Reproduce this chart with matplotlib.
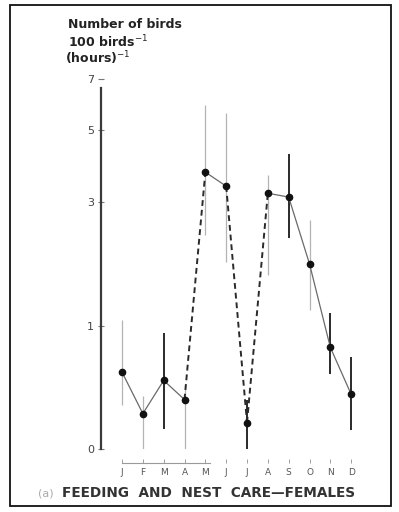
import numpy as np
import matplotlib
matplotlib.use("Agg")
import matplotlib.pyplot as plt
from matplotlib.patches import Rectangle

# Monthly counts (number of birds per 100 birds per hour), with range limits
months = np.arange(1, 13)
month_labels = ["J", "F", "M", "A", "M", "J", "J", "A", "S", "O", "N", "D"]
mean_count = [0.54, 0.22, 0.47, 0.32, 3.74, 3.38, 0.16, 3.21, 3.12, 1.83, 0.77, 0.36]
low_count = [0.28, 0.00, 0.12, 0.00, 2.33, 1.86, 0.00, 1.66, 2.27, 1.18, 0.52, 0.11]
high_count = [1.06, 0.35, 0.92, 0.43, 5.90, 5.60, 0.32, 3.66, 4.24, 2.62, 1.15, 0.68]
y_ticks = [0, 1, 3, 5, 7]

# line style between consecutive months, and ink of each range bar
segment_styles = ["-", "-", "-", "--", "-", "--", "--", "-", "-", "-", "-"]
bar_dark = [False, False, True, False, False, False, True, False, True, False, True, True]

W, H = 399, 512
fig = plt.figure(figsize=(W / 100, H / 100), dpi=100)
fig.patch.set_facecolor("white")

# axes placed in pixel terms
ax_left, ax_right = 101.2, 372.0
ax_top, ax_bottom = 79.0, 449.0
ax = fig.add_axes([ax_left / W, 1 - ax_bottom / H,
                   (ax_right - ax_left) / W, (ax_bottom - ax_top) / H])


def fwd(v):
    return np.log10(np.asarray(v, dtype=float) + 1.0)


def inv(u):
    return 10.0 ** np.asarray(u, dtype=float) - 1.0


ax.set_yscale("function", functions=(fwd, inv))
ax.set_xlim(0, 13)
ax.set_ylim(0, 7)

# range bars
for i, m in enumerate(months):
    dark = bar_dark[i]
    ax.vlines(m, low_count[i], high_count[i],
              color="#2a2a2a" if dark else "#b4b4b4",
              lw=1.4 if dark else 0.9, zorder=2)

# connecting lines, solid or dashed
for i in range(len(months) - 1):
    ls = segment_styles[i]
    if ls == "--":
        ax.plot(months[i:i + 2], mean_count[i:i + 2], color="#2a2a2a",
                lw=1.4, ls=(0, (3.0, 2.0)), zorder=3)
    else:
        ax.plot(months[i:i + 2], mean_count[i:i + 2], color="#6a6a6a",
                lw=0.9, zorder=3)

ax.plot(months, mean_count, "o", color="#111111", ms=4.5, zorder=4)

# spines
for s in ("top", "right"):
    ax.spines[s].set_visible(False)
ax.spines["left"].set_color("#3a3a3a")
ax.spines["left"].set_linewidth(1.6)
ax.spines["left"].set_bounds(0, 6.6)
ax.spines["bottom"].set_position(("outward", 10))
ax.spines["bottom"].set_bounds(1, 5.2)
ax.spines["bottom"].set_color("#9a9a9a")
ax.spines["bottom"].set_linewidth(0.8)

ax.set_yticks(y_ticks)
ax.set_yticklabels([str(t) for t in y_ticks])
ax.yaxis.set_minor_locator(matplotlib.ticker.NullLocator())
ax.tick_params(axis="y", length=4, width=0.8, direction="inout", color="#777777",
               labelsize=8, labelcolor="#444444", pad=3)

ax.set_xticks(months)
ax.set_xticklabels(month_labels)
ax.tick_params(axis="x", length=3, width=0.7, direction="in", color="#a0a0a0",
               labelsize=6.5, labelcolor="#555555", pad=4)

# axis heading
head_kw = dict(fontsize=9, color="#222222", ha="left", va="center",
               fontweight="bold")
fig.text(68 / W, 1 - 24 / H, "Number of birds", **head_kw)
fig.text(68 / W, 1 - 42 / H, r"100 birds$^{-1}$", **head_kw)
fig.text(65 / W, 1 - 58 / H, r"(hours)$^{-1}$", **head_kw)

# caption
fig.text(38 / W, 1 - 493 / H, "(a)", fontsize=8, color="#aaaaaa",
         ha="left", va="center")
fig.text(62 / W, 1 - 493 / H, "FEEDING  AND  NEST  CARE\u2014FEMALES", fontsize=9.8,
         fontweight="bold", color="#333333", ha="left", va="center")

# page frame
fig.add_artist(Rectangle((10 / W, 1 - 506 / H), (391 - 10) / W, (506 - 5) / H,
                         transform=fig.transFigure, fill=False, lw=1.3,
                         ec="#111111"))

fig.savefig("out.png", dpi=100, facecolor="white")
